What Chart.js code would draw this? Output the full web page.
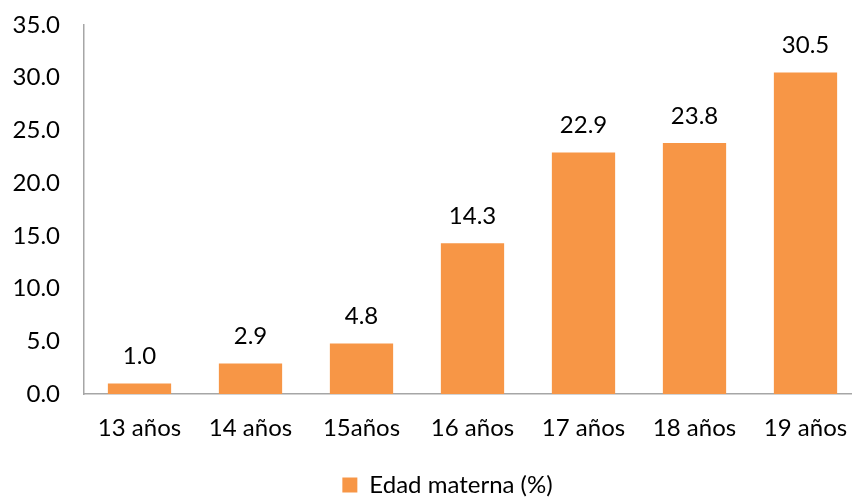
<!DOCTYPE html>
<html>
<head>
<meta charset="utf-8">
<script src="https://cdn.jsdelivr.net/npm/chart.js@4/dist/chart.umd.min.js"></script>
<style>
  html, body { margin: 0; padding: 0; background: #fff; overflow: hidden; }
  #wrap { width: 894px; height: 497px; }
</style>
</head>
<body>
<div id="wrap"><canvas id="c" width="894" height="497"></canvas></div>
<script>
const categories = ["13 años", "14 años", "15años", "16 años", "17 años", "18 años", "19 años"];
const values = [1.0, 2.9, 4.8, 14.3, 22.9, 23.8, 30.5];
const seriesName = "Edad materna (%)";
const yTicks = [0, 5, 10, 15, 20, 25, 30, 35];

const FONT = "Lato, 'Open Sans', sans-serif";
const SIZE = 24;
const BAR = "#F79646";
const AXIS = "#A6A6A6";

// Writes each bar's value above it
const valueLabels = {
  id: "valueLabels",
  afterDatasetsDraw(chart) {
    const ctx = chart.ctx;
    const meta = chart.getDatasetMeta(0);
    ctx.save();
    ctx.fillStyle = "#000";
    ctx.font = SIZE + "px " + FONT;
    ctx.textAlign = "center";
    ctx.textBaseline = "middle";
    meta.data.forEach((bar, i) => {
      ctx.fillText(values[i].toFixed(1), bar.x, bar.y - 27);
    });
    ctx.restore();
  }
};

// Centres the legend under the whole canvas rather than the padded area
const legendShift = {
  id: "legendShift",
  afterLayout(chart) {
    const lg = chart.legend;
    if (!lg) return;
    const dx = 17;
    lg.left += dx;
    lg.right += dx;
  }
};

new Chart(document.getElementById("c"), {
  type: "bar",
  data: {
    labels: categories,
    datasets: [{
      label: seriesName,
      data: values,
      backgroundColor: BAR,
      borderWidth: 0,
      categoryPercentage: 1.0,
      barPercentage: 0.57
    }]
  },
  options: {
    responsive: false,
    animation: false,
    layout: { padding: { left: 0, right: 33, top: 25, bottom: -10 } },
    plugins: {
      legend: {
        position: "bottom",
        labels: {
          font: { family: FONT, size: SIZE },
          color: "#000",
          boxWidth: 15,
          boxHeight: 15,
          padding: 4
        }
      },
      tooltip: { enabled: false }
    },
    scales: {
      x: {
        grid: { display: false, drawTicks: false },
        border: { color: AXIS, width: 1.5 },
        ticks: { font: { family: FONT, size: SIZE }, color: "#000", padding: 20, maxRotation: 0 },
        afterFit(scale) {
          scale.height = 75;
          scale.paddingLeft = 0;
          scale.paddingRight = 0;
        }
      },
      y: {
        min: 0,
        max: 35,
        afterBuildTicks(axis) { axis.ticks = yTicks.map(v => ({ value: v })); },
        grid: { display: false, drawTicks: false },
        border: { color: AXIS, width: 1.5 },
        ticks: {
          font: { family: FONT, size: SIZE },
          color: "#000",
          padding: 24,
          callback: v => Number(v).toFixed(1)
        },
        afterFit(scale) {
          scale.width = 84;
          scale.paddingTop = 0;
          scale.paddingBottom = 0;
        }
      }
    }
  },
  plugins: [valueLabels, legendShift]
});
</script>
</body>
</html>
